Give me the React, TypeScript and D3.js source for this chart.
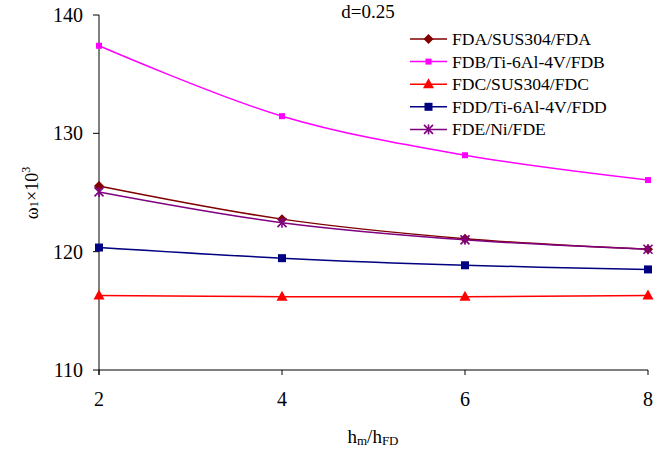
import React from "react";
import * as d3 from "d3";

const xValues = [2, 4, 6, 8];
const seriesNames = [
  "FDA/SUS304/FDA",
  "FDB/Ti-6Al-4V/FDB",
  "FDC/SUS304/FDC",
  "FDD/Ti-6Al-4V/FDD",
  "FDE/Ni/FDE",
];
const fdaValues = [125.55, 122.75, 121.1, 120.2];
const fdbValues = [137.4, 131.45, 128.15, 126.05];
const fdcValues = [116.3, 116.2, 116.2, 116.3];
const fddValues = [120.35, 119.45, 118.85, 118.5];
const fdeValues = [125.05, 122.45, 121.0, 120.2];
const yTicks = [110, 120, 130, 140];
const xTicks = [2, 4, 6, 8];

const seriesValues = [fdaValues, fdbValues, fdcValues, fddValues, fdeValues];
const colors = ["#800000", "#FF00FF", "#FF0000", "#000080", "#800080"];
const markers = ["diamond", "smallsquare", "triangle", "square", "star"];

const W = 655;
const H = 454;
const left = 99;
const right = 648;
const top = 15;
const bottom = 370;
const FONT = "'Liberation Serif', 'Times New Roman', Times, serif";

function Marker({ kind, x, y, color }: { kind: string; x: number; y: number; color: string }) {
  if (kind === "diamond") {
    const s = 5;
    return <path d={`M${x},${y - s}L${x + s},${y}L${x},${y + s}L${x - s},${y}Z`} fill={color} />;
  }
  if (kind === "smallsquare") {
    return <rect x={x - 3} y={y - 3} width={6} height={6} fill={color} />;
  }
  if (kind === "square") {
    return <rect x={x - 4} y={y - 4} width={8} height={8} fill={color} />;
  }
  if (kind === "triangle") {
    return <path d={`M${x},${y - 6}L${x + 5.5},${y + 4}L${x - 5.5},${y + 4}Z`} fill={color} />;
  }
  const r = 4.5;
  return (
    <g stroke={color} strokeWidth={1.6}>
      <line x1={x - r} y1={y - r} x2={x + r} y2={y + r} />
      <line x1={x - r} y1={y + r} x2={x + r} y2={y - r} />
      <line x1={x} y1={y - r - 0.5} x2={x} y2={y + r + 0.5} />
    </g>
  );
}

export default function App() {
  const xScale = d3.scaleLinear().domain([2, 8]).range([left, right]);
  const yScale = d3.scaleLinear().domain([110, 140]).range([bottom, top]);
  const line = d3
    .line<number>()
    .x((_, i) => xScale(xValues[i]))
    .y((d) => yScale(d))
    .curve(d3.curveCatmullRom.alpha(0.5));

  const legendX = 410;
  const legendY0 = 39;
  const legendDy = 22.6;

  return (
    <svg
      width={W}
      height={H}
      style={{ position: "absolute", left: 0, top: 0, background: "#fff", fontFamily: FONT }}
    >
      <rect x={0} y={0} width={W} height={H} fill="#fff" />
      <line x1={left} y1={top} x2={left} y2={bottom + 5} stroke="#000" strokeWidth={1} />
      <line x1={left} y1={bottom} x2={right} y2={bottom} stroke="#000" strokeWidth={1} />
      {yTicks.map((t) => (
        <g key={"y" + t}>
          <line x1={left - 6} x2={left} y1={yScale(t)} y2={yScale(t)} stroke="#000" />
          <text x={left - 16} y={yScale(t) + 7} textAnchor="end" fontSize={20} style={{ fontFamily: FONT }}>
            {t}
          </text>
        </g>
      ))}
      {xTicks.map((t) => (
        <g key={"x" + t}>
          <line x1={xScale(t)} x2={xScale(t)} y1={bottom} y2={bottom + 5} stroke="#000" />
          <text x={xScale(t)} y={bottom + 36} textAnchor="middle" fontSize={20} style={{ fontFamily: FONT }}>
            {t}
          </text>
        </g>
      ))}
      <text x={373} y={443} textAnchor="middle" fontSize={19} style={{ fontFamily: FONT }}>
        h<tspan fontSize={13} dy={2}>m</tspan>
        <tspan dy={-2}>/h</tspan>
        <tspan fontSize={13} dy={2}>FD</tspan>
      </text>
      <text transform="translate(38,193) rotate(-90)" textAnchor="middle" fontSize={18} style={{ fontFamily: FONT }}>
        ω<tspan fontSize={13}>1</tspan>
        <tspan>×10</tspan>
        <tspan fontSize={12} dy={-8}>3</tspan>
      </text>
      <text x={368} y={18} textAnchor="middle" fontSize={19} style={{ fontFamily: FONT }}>
        d=0.25
      </text>
      {seriesValues.map((vals, si) => (
        <g key={"s" + si}>
          <path d={line(vals) || ""} fill="none" stroke={colors[si]} strokeWidth={1.5} />
          {vals.map((v, i) => (
            <Marker key={i} kind={markers[si]} x={xScale(xValues[i])} y={yScale(v)} color={colors[si]} />
          ))}
        </g>
      ))}
      {seriesNames.map((name, si) => {
        const y = legendY0 + si * legendDy;
        return (
          <g key={"l" + si}>
            <line x1={legendX} x2={legendX + 37} y1={y} y2={y} stroke={colors[si]} strokeWidth={1.5} />
            <Marker kind={markers[si]} x={legendX + 18.5} y={y} color={colors[si]} />
            <text x={legendX + 42} y={y + 6} fontSize={17.6} style={{ fontFamily: FONT }}>
              {name}
            </text>
          </g>
        );
      })}
    </svg>
  );
}
